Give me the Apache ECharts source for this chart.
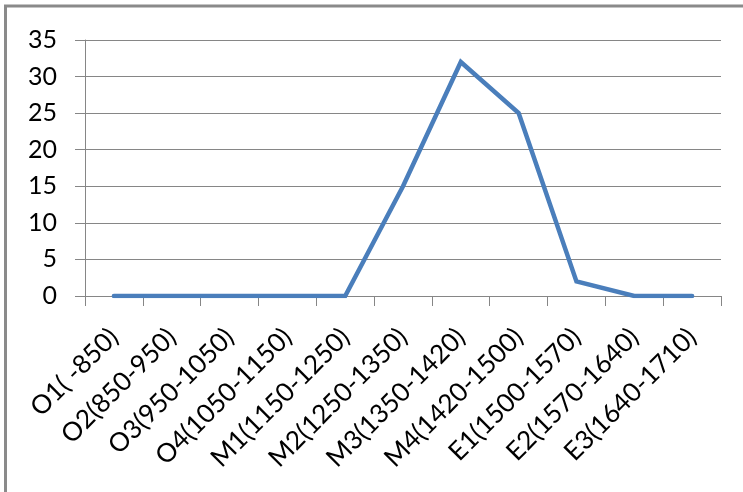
<!DOCTYPE html>
<html>
<head>
<meta charset="utf-8">
<script src="https://cdn.jsdelivr.net/npm/echarts@6/dist/echarts.min.js"></script>
<style>
  html, body { margin: 0; padding: 0; background: #fff; }
  #chart { width: 743px; height: 492px; }
</style>
</head>
<body>
<div id="chart"></div>
<script>
// Grade bands with their score ranges
const categories = [
  'O1( -850)', 'O2(850-950)', 'O3(950-1050)', 'O4(1050-1150)',
  'M1(1150-1250)', 'M2(1250-1350)', 'M3(1350-1420)', 'M4(1420-1500)',
  'E1(1500-1570)', 'E2(1570-1640)', 'E3(1640-1710)'
];
// Count per band
const counts = [0, 0, 0, 0, 0, 15, 32, 25, 2, 0, 0];
// Value axis range
const yMin = 0;
const yMax = 35;
const yStep = 5;

const labelFont = 'Lato, "Open Sans", sans-serif';

const chart = echarts.init(document.getElementById('chart'), null, { renderer: 'canvas' });
chart.setOption({
  animation: false,
  backgroundColor: '#ffffff',
  grid: { left: 85, right: 22, top: 40, bottom: 196, containLabel: false },
  xAxis: {
    type: 'category',
    data: categories,
    boundaryGap: true,
    axisLine: { show: true, lineStyle: { color: '#868686', width: 1 } },
    axisTick: { show: true, length: 10, interval: 0, lineStyle: { color: '#868686', width: 1 } },
    axisLabel: {
      interval: 0,
      rotate: 45,
      margin: 37,
      color: '#000',
      fontFamily: labelFont,
      fontSize: 26
    }
  },
  yAxis: {
    type: 'value',
    min: yMin,
    max: yMax,
    interval: yStep,
    axisLine: { show: true, lineStyle: { color: '#868686', width: 1 } },
    axisTick: { show: true, length: 10, lineStyle: { color: '#868686', width: 1 } },
    splitLine: { show: true, lineStyle: { color: '#868686', width: 1 } },
    axisLabel: {
      margin: 28,
      color: '#000',
      fontFamily: labelFont,
      fontSize: 25
    }
  },
  series: [{
    type: 'line',
    data: counts,
    showSymbol: false,
    symbol: 'none',
    lineStyle: { color: '#4a7ebb', width: 4.5, cap: 'round', join: 'miter' },
    itemStyle: { color: '#4a7ebb' }
  }],
  graphic: [{
    type: 'polyline',
    shape: { points: [[5.5, 600], [5.5, 6], [800, 6]] },
    style: { stroke: '#8a8a8a', lineWidth: 3, fill: null }
  }]
});
</script>
</body>
</html>
